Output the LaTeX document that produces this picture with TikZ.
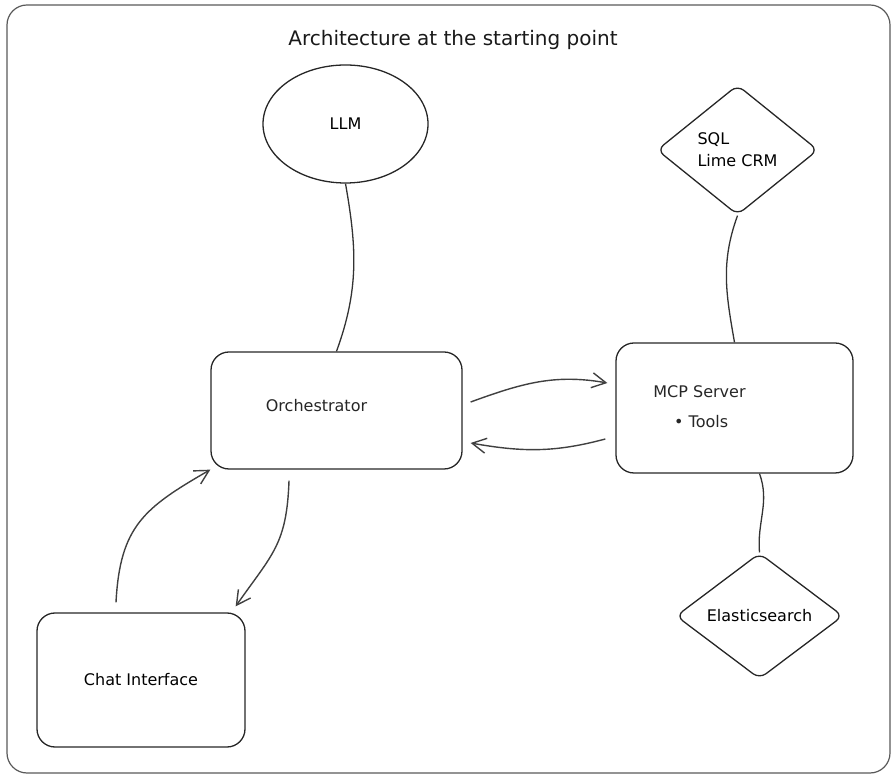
\documentclass[tikz,border=0pt]{standalone}
\usepackage{fontspec}
\setmainfont{DejaVu Sans}
\usetikzlibrary{arrows.meta,shapes.geometric}
\tikzset{
    box/.style={draw=black!85, line width=1.3pt, rounded corners=18pt,
                align=center, font=\fontsize{16}{19}\selectfont},
    blob/.style={ellipse, draw=black!85, line width=1.3pt,
                 font=\fontsize{16}{19}\selectfont},
    choice/.style={diamond, draw=black!85, line width=1.3pt, rounded corners=8pt,
                   inner sep=2pt, align=left, font=\fontsize{16}{22}\selectfont},
    note/.style={font=\fontsize{16}{19}\selectfont, text=black!85},
    heading/.style={font=\fontsize{20}{24}\selectfont, text=black!90},
    flow/.style={-{Straight Barb[length=14pt,width=15pt]}, line width=1.4pt, draw=black!75},
    link/.style={line width=1.3pt, draw=black!80},
    frame/.style={draw=black!65, line width=1.2pt, rounded corners=20pt},
}

\begin{document}
\begin{tikzpicture}[x=1pt, y=1pt]

    \useasboundingbox (0,0) rectangle (896,776);
    \draw[frame] (7,3) rectangle (890,771);
    \node[heading] (title) at (453,736) {Architecture at the starting point};

    \node[blob, minimum width=165pt, minimum height=118pt] (llm) at (345.5,652) {LLM};
    \node[box, minimum width=251pt, minimum height=117pt,
          label={[note, xshift=-20pt, yshift=5pt]center:Orchestrator}] (orch) at (336.5,365.5) {};
    \node[box, minimum width=237pt, minimum height=130pt,
          label={[note, align=left, font=\fontsize{16}{30}\selectfont,
                  xshift=-35pt, yshift=1pt]center:MCP Server\\\hspace*{1.3em}• Tools}] (mcp) at (734.5,368) {};
    \node[choice, minimum width=161pt, minimum height=130pt] (sql) at (737.5,626) {SQL\\Lime CRM};
    \node[choice, minimum width=167pt, minimum height=118pt] (elastic) at (759.5,160) {Elasticsearch};
    \node[box, minimum width=208pt, minimum height=134pt] (chat) at (141,96) {Chat Interface};

    \draw[link] (llm.south) to[out=-80, in=70] (orch.north);
    \draw[link] (sql.south) to[out=-110, in=100] (mcp.north);
    \draw[link] (elastic.north |- mcp.south) to[out=-70, in=95] (elastic.north);

    \draw[flow] ([shift={(8,8.5)}]orch.east) to[out=20, in=170] ([shift={(-8,25)}]mcp.west);
    \draw[flow] ([shift={(-10,-31)}]mcp.west) to[out=195, in=-10] ([shift={(8,-32.5)}]orch.east);
    \draw[flow] ([shift={(-25,10)}]chat.north) to[out=87, in=210, looseness=1.2] (orch.south west);
    \draw[flow] ([shift={(-47.5,-11)}]orch.south) to[out=-92, in=55, looseness=1.2] ([shift={(-10,6)}]chat.north east);

\end{tikzpicture}
\end{document}
